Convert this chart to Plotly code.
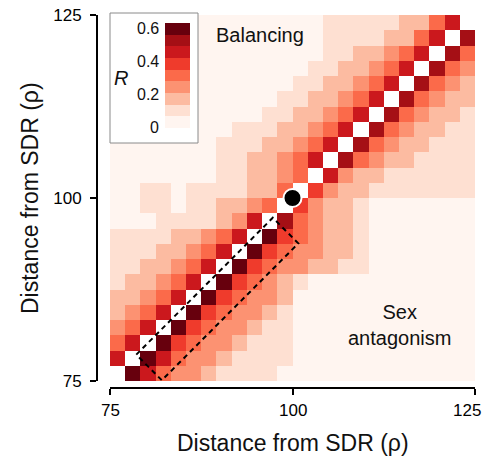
import numpy as np
import plotly.graph_objects as go

# ---------------- data ----------------
# 24 x 24 grid of distances from the SDR, spanning 75..125
rho_edges = np.linspace(75, 125, 25)
rho_centers = (rho_edges[:-1] + rho_edges[1:]) / 2

# R binned in steps of 0.07 (9 colour classes, 0 .. 0.63)
R_STEP = 0.07
R_MAX = 0.63

# R class per cell, bottom row (rho_y = 76) first, left column first;
# '-' = diagonal cell (no value)
r_class_rows = [
    "-8643321111" + "0" * 13,
    "6-8643321111" + "0" * 12,
    "46-854332111" + "0" * 12,
    "346-85433211" + "0" * 12,
    "2346-8543321" + "0" * 12,
    "22346-854332" + "0" * 12,
    "122346-854321" + "0" * 11,
    "1122346-854332211" + "0" * 7,
    "11122346-85433221" + "0" * 7,
    "111122346-8543221" + "0" * 7,
    "0001111236-743221" + "0" * 7,
    "00110112234-53221" + "0" * 7,
    "001101111224-53221111111",
    "0000000112234-6322111111",
    "00000001122346-743221111",
    "000000011122346-74322111",
    "0000000011122346-7432211",
    "00000000001122346-743221",
    "000000000001122346-74322",
    "0000000000001122346-7432",
    "00000000000001122346-743",
    "000000000000001122346-74",
    "0000000000000011112246-7",
    "00000000000000111112246-",
]

Z = np.array([[np.nan if ch == "-" else (int(ch) + 0.5) * R_STEP for ch in row]
              for row in r_class_rows])

x_ticks = [75, 100, 125]
y_ticks = [75, 100, 125]
cb_ticks = [0, 0.2, 0.4, 0.6]
cb_ticktext = ["0", "0.2", "0.4", "0.6"]

# dashed region (rho_x, rho_y) and focal point
box_x = [78.6, 97.3, 100.8, 82.1, 78.6]
box_y = [78.6, 97.3, 93.8, 75.1, 78.6]
point_x = [100]
point_y = [100]

# ---------------- style ----------------
reds9 = ['#fff5f0', '#fee0d2', '#fcbba1', '#fc9272', '#fb6a4a',
         '#ef3b2c', '#cb181d', '#a50f15', '#67000d']
colorscale = []
for k, c in enumerate(reds9):
    colorscale.append([k / 9, c])
    colorscale.append([(k + 1) / 9, c])

FONT = "Liberation Sans, Arial, sans-serif"
OFF = 8                      # page body margin of the browser
W, H = 491 - OFF, 458 - OFF
VISIBLE_R = 483              # right edge that is visible in the window
# target positions below are given in window pixels
AX_LEFT, AX_BOTTOM = 97, 388     # spine positions
PLOT_L, PLOT_R, PLOT_T, PLOT_B = 110, 475, 15, 381

ML = AX_LEFT - OFF
MR = 491 - PLOT_R
MT = PLOT_T - OFF
MB = H - (AX_BOTTOM - OFF)
PW = W - ML - MR
PH = H - MT - MB


def px_x(x):  # window pixel -> paper fraction
    return (x - OFF - ML) / PW


def px_y(y):
    return (H - MB - (y - OFF)) / PH


cb_top_px, cb_bot_px = 23, 128
cb_left_px = 165

fig = go.Figure()
fig.add_trace(go.Heatmap(
    x=rho_centers, y=rho_centers, z=Z,
    colorscale=colorscale, zmin=0, zmax=R_MAX,
    hoverinfo="skip",
    colorbar=dict(
        x=px_x(cb_left_px), xanchor="left",
        y=px_y((cb_top_px + cb_bot_px) / 2), yanchor="middle",
        len=cb_bot_px - cb_top_px, lenmode="pixels",
        thickness=25, thicknessmode="pixels",
        outlinewidth=0, xpad=0, ypad=0,
        showticklabels=False, ticks="",
    ),
))

fig.add_trace(go.Scatter(
    x=box_x, y=box_y, mode="lines",
    line=dict(color="black", width=2, dash="5px,4px"),
    hoverinfo="skip", showlegend=False,
))
fig.add_trace(go.Scatter(
    x=point_x, y=point_y, mode="markers",
    marker=dict(size=18, color="black", line=dict(color="white", width=2)),
    hoverinfo="skip", showlegend=False,
))

axis_common = dict(
    range=[75, 125],
    showline=True, linewidth=2, linecolor="black",
    ticks="outside", ticklen=6, tickwidth=2, tickcolor="black",
    showgrid=False, zeroline=False, automargin=False,
    ticklabeloverflow="allow",
    tickfont=dict(family=FONT, size=17, color="black"),
    anchor="free", position=0,
)

fig.update_layout(
    width=W, height=H, autosize=False,
    margin=dict(l=ML, r=MR, t=MT, b=MB, pad=0, autoexpand=False),
    paper_bgcolor="white", plot_bgcolor="white",
    showlegend=False,
    xaxis=dict(axis_common, domain=[px_x(PLOT_L), 1],
               tickvals=x_ticks, showticklabels=False),
    yaxis=dict(axis_common, domain=[px_y(PLOT_B), 1],
               tickvals=y_ticks, ticklabelstandoff=5),
)

# legend frame
fig.add_shape(type="rect", xref="paper", yref="paper",
              x0=px_x(110), x1=px_x(198), y0=px_y(143), y1=px_y(13),
              fillcolor="white", line=dict(color="#8a8a8a", width=1),
              layer="above")

ann = []
# x tick labels (last one kept inside the visible window)
for v in x_ticks:
    a = dict(x=v, y=0, xref="x", yref="paper", text=str(v), showarrow=False,
             yanchor="middle", yshift=-(410 - AX_BOTTOM),
             font=dict(family=FONT, size=17, color="black"))
    if v == x_ticks[-1]:
        a.update(xanchor="right", xshift=VISIBLE_R - PLOT_R)
    ann.append(a)
for v, t in zip(cb_ticks, cb_ticktext):
    ypx = cb_bot_px - v / R_MAX * (cb_bot_px - cb_top_px)
    ann.append(dict(x=px_x(161), y=px_y(ypx), xref="paper", yref="paper",
                    text=t, showarrow=False, xanchor="right", yanchor="middle",
                    font=dict(family=FONT, size=16, color="#111")))
ann.append(dict(x=px_x(121), y=px_y(78), xref="paper", yref="paper",
                text="<i>R</i>", showarrow=False, xanchor="center", yanchor="middle",
                font=dict(family=FONT, size=20, color="#111")))
ann.append(dict(x=95.5, y=122.3, xref="x", yref="y", text="Balancing",
                showarrow=False, font=dict(family=FONT, size=20, color="#111")))
ann.append(dict(x=114.6, y=82.6, xref="x", yref="y", text="Sex<br>antagonism",
                showarrow=False, font=dict(family=FONT, size=20, color="#111")))
ann.append(dict(x=100, y=0, xref="x", yref="paper", yshift=-(443 - AX_BOTTOM),
                text="Distance from SDR (ρ)", showarrow=False,
                yanchor="middle", font=dict(family=FONT, size=23, color="#111")))
ann.append(dict(x=0, y=100, xref="paper", yref="y", xshift=-(AX_LEFT - 30),
                text="Distance from SDR (ρ)", showarrow=False, textangle=-90,
                xanchor="center", yanchor="middle",
                font=dict(family=FONT, size=23, color="#111")))
fig.update_layout(annotations=ann)

fig.write_html("out.html")
